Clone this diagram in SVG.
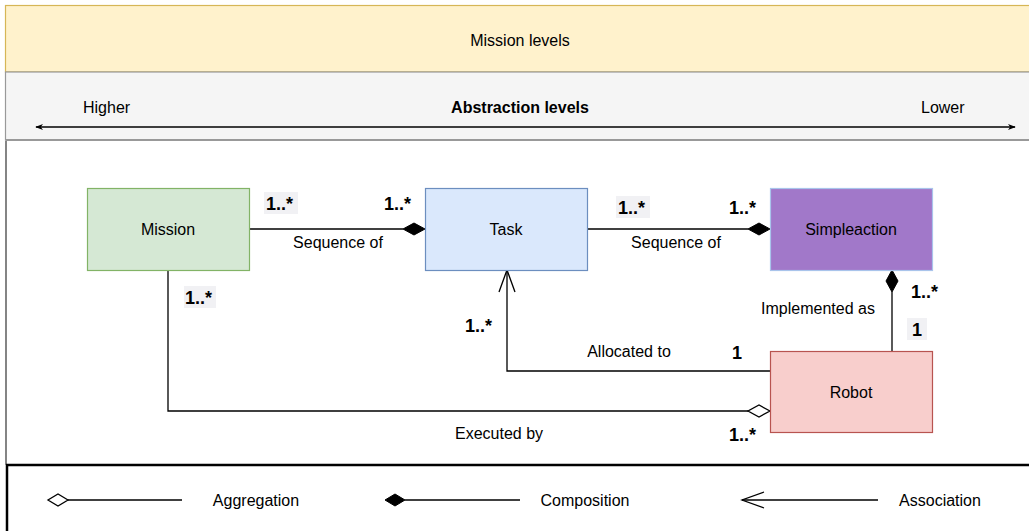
<svg xmlns="http://www.w3.org/2000/svg" width="1029" height="531" viewBox="0 0 1029 531">
  <style>
    text { font-family: "Liberation Sans", Arial, Helvetica, sans-serif; fill: #000; }
    .lbl { font-size: 16px; }
    .name { font-size: 16px; text-anchor: middle; }
    .mult { font-size: 18px; font-weight: bold; }
    .edge { fill: none; stroke: #000; stroke-width: 1.3; }
    .mbg { fill: #f1f1f4; }
  </style>
  <defs>
    <marker id="tip" viewBox="0 0 10 10" refX="9" refY="5" markerWidth="8" markerHeight="8" markerUnits="userSpaceOnUse" orient="auto-start-reverse">
      <path d="M0,1 L10,5 L0,9 L3,5 Z" fill="#000"/>
    </marker>
  </defs>

  <!-- background bands -->
  <rect x="0" y="0" width="1029" height="531" fill="#fff"/>
  <rect x="5.5" y="5.5" width="1030" height="66.5" fill="#fff2cc" stroke="#d6b656" stroke-width="1.2"/>
  <rect x="5.5" y="72" width="1030" height="68" fill="#f5f5f5" stroke="#999" stroke-width="1.2"/>
  <line x1="5.5" y1="140" x2="1029" y2="140" stroke="#999" stroke-width="2"/>
  <line x1="6" y1="141" x2="6" y2="465" stroke="#333" stroke-width="1.2"/>
  <line x1="6" y1="465" x2="1029" y2="465" stroke="#000" stroke-width="2.5"/>
  <line x1="7" y1="465" x2="7" y2="531" stroke="#000" stroke-width="2.5"/>

  <text class="name" x="520" y="46">Mission levels</text>
  <text class="lbl" x="83" y="113">Higher</text>
  <text class="name" x="520" y="113" font-weight="bold">Abstraction levels</text>
  <text class="lbl" x="921" y="113">Lower</text>
  <line x1="36" y1="127" x2="1015" y2="127" stroke="#000" stroke-width="1.3" marker-start="url(#tip)" marker-end="url(#tip)"/>

  <!-- connectors -->
  <g id="connectors">
    <!-- Mission - Task composition -->
    <path class="edge" d="M249,229 H403"/>
    <path d="M425,229 L414,223 L403,229 L414,235 Z" fill="#000" stroke="#000"/>
    <!-- Task - Simpleaction composition -->
    <path class="edge" d="M588,229 H748"/>
    <path d="M770,229 L759,223 L748,229 L759,235 Z" fill="#000" stroke="#000"/>
    <!-- Simpleaction - Robot composition -->
    <path class="edge" d="M892,292 V351"/>
    <path d="M892,270 L886,281 L892,292 L898,281 Z" fill="#000" stroke="#000"/>
    <!-- Robot - Task association -->
    <path class="edge" d="M770,371 H507 V270"/>
    <path class="edge" d="M499,292 L507,270 L515,292"/>
    <!-- Mission - Robot aggregation -->
    <path class="edge" d="M168,270 V411 H748"/>
    <path d="M770,411 L759,405 L748,411 L759,417 Z" fill="#fff" stroke="#000" stroke-width="1.3"/>
  </g>

  <!-- connector labels -->
  <g id="edge-labels">
    <rect class="mbg" x="264" y="192" width="34" height="22"/>
    <text class="mult" x="266" y="210">1..*</text>
    <text class="mult" x="384" y="210">1..*</text>
    <text class="lbl" x="338" y="248" text-anchor="middle">Sequence of</text>

    <rect class="mbg" x="616" y="196" width="34" height="22"/>
    <text class="mult" x="618" y="214">1..*</text>
    <text class="mult" x="729" y="214">1..*</text>
    <text class="lbl" x="676" y="248" text-anchor="middle">Sequence of</text>

    <rect class="mbg" x="184" y="286" width="32" height="22"/>
    <text class="mult" x="185" y="304">1..*</text>

    <text class="mult" x="465" y="332">1..*</text>
    <text class="lbl" x="629" y="357" text-anchor="middle">Allocated to</text>
    <text class="mult" x="732" y="359">1</text>

    <text class="mult" x="911" y="298">1..*</text>
    <text class="lbl" x="818" y="314" text-anchor="middle">Implemented as</text>
    <rect class="mbg" x="907" y="318" width="20" height="22"/>
    <text class="mult" x="912" y="336">1</text>

    <text class="lbl" x="499" y="439" text-anchor="middle">Executed by</text>
    <text class="mult" x="729" y="441">1..*</text>
  </g>

  <!-- nodes -->
  <g id="mission">
    <rect x="87.5" y="188.5" width="162" height="82" fill="#d5e8d4" stroke="#82b366" stroke-width="1.2"/>
    <text class="name" x="168" y="235">Mission</text>
  </g>
  <g id="task">
    <rect x="425.5" y="188.5" width="162" height="82" fill="#dae8fc" stroke="#6c8ebf" stroke-width="1.2"/>
    <text class="name" x="506" y="235">Task</text>
  </g>
  <g id="simpleaction">
    <rect x="770.5" y="188.5" width="162" height="82" fill="#a178c9" stroke="#a9c4eb" stroke-width="1.2"/>
    <text class="name" x="851" y="235">Simpleaction</text>
  </g>
  <g id="robot">
    <rect x="770.5" y="351.5" width="162" height="81" fill="#f8cecc" stroke="#b85450" stroke-width="1.2"/>
    <text class="name" x="851" y="398">Robot</text>
  </g>

  <!-- legend -->
  <g id="legend">
    <path class="edge" d="M68,500 H182"/>
    <path d="M68,500 L58,494 L48,500 L58,506 Z" fill="#fff" stroke="#000" stroke-width="1.3"/>
    <text class="lbl" x="256" y="506" text-anchor="middle">Aggregation</text>

    <path class="edge" d="M405,500 H520"/>
    <path d="M405,500 L395,494 L385,500 L395,506 Z" fill="#000" stroke="#000"/>
    <text class="lbl" x="585" y="506" text-anchor="middle">Composition</text>

    <path class="edge" d="M742,500 H878"/>
    <path class="edge" d="M764,492 L742,500 L764,508"/>
    <text class="lbl" x="940" y="506" text-anchor="middle">Association</text>
  </g>
</svg>
